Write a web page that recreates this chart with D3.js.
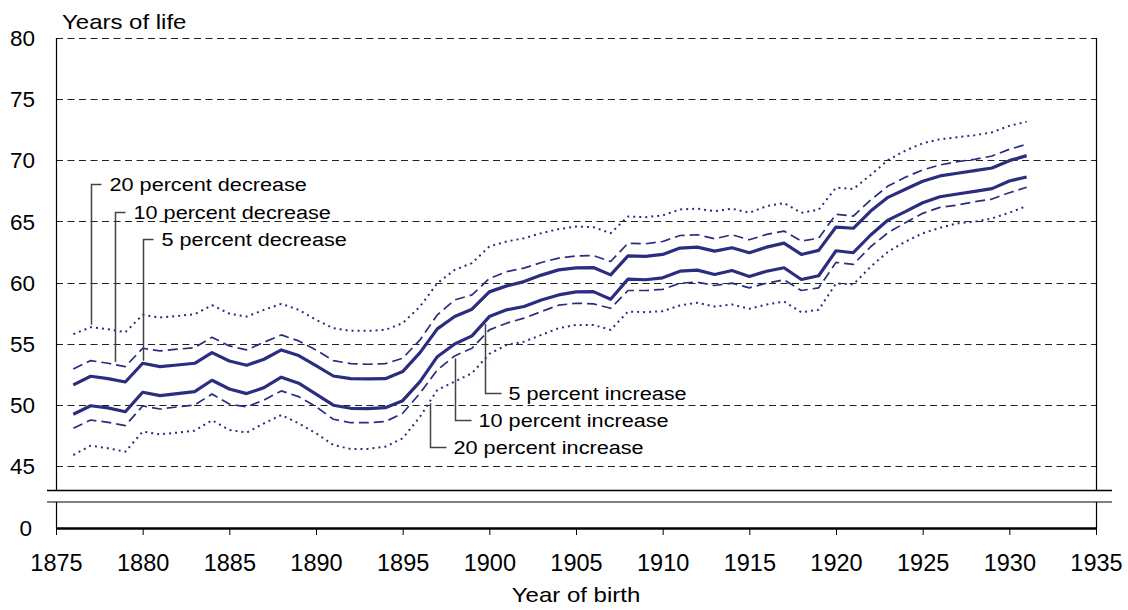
<!DOCTYPE html>
<html>
<head>
<meta charset="utf-8">
<script src="https://cdn.jsdelivr.net/npm/d3@7"></script>
<style>
  html, body { margin: 0; padding: 0; background: #fff; }
  svg { display: block; }
  text { font-family: "Liberation Sans", Arial, Helvetica, sans-serif; fill: #000; }
</style>
</head>
<body>
<svg id="chart" width="1128" height="610"></svg>
<script>
// Year of birth (x categories)
const years = [1876, 1877, 1878, 1879, 1880, 1881, 1882, 1883, 1884, 1885,
  1886, 1887, 1888, 1889, 1890, 1891, 1892, 1893, 1894, 1895,
  1896, 1897, 1898, 1899, 1900, 1901, 1902, 1903, 1904, 1905,
  1906, 1907, 1908, 1909, 1910, 1911, 1912, 1913, 1914, 1915,
  1916, 1917, 1918, 1919, 1920, 1921, 1922, 1923, 1924, 1925,
  1926, 1927, 1928, 1929, 1930, 1931];

// Life expectancy (years of life) under mortality changes
const decrease20 = [55.78, 56.35, 56.19, 55.94, 57.36, 57.14, 57.27, 57.41, 58.15, 57.46,
  57.22, 57.77, 58.26, 57.77, 56.95, 56.27, 56.05, 56.05, 56.13, 56.68,
  58.04, 59.95, 61.04, 61.59, 62.95, 63.36, 63.63, 64.04, 64.37, 64.58,
  64.53, 64.04, 65.40, 65.35, 65.49, 65.98, 66.04, 65.84, 66.04, 65.71,
  66.25, 66.50, 65.71, 65.96, 67.76, 67.65, 68.80, 70.02, 70.79, 71.39,
  71.72, 71.88, 72.05, 72.29, 72.81, 73.16];

const decrease10 = [52.94, 53.62, 53.40, 53.13, 54.63, 54.41, 54.55, 54.68, 55.53, 54.82,
  54.49, 55.12, 55.72, 55.23, 54.49, 53.62, 53.37, 53.32, 53.37, 53.81,
  55.31, 57.36, 58.58, 58.99, 60.33, 60.90, 61.18, 61.64, 62.00, 62.18,
  62.21, 61.72, 63.22, 63.17, 63.36, 63.85, 63.91, 63.58, 63.91, 63.50,
  63.94, 64.21, 63.39, 63.63, 65.58, 65.44, 66.75, 67.90, 68.61, 69.21,
  69.62, 69.89, 70.08, 70.35, 70.90, 71.31];

const decrease5 = [51.63, 52.34, 52.14, 51.87, 53.40, 53.13, 53.26, 53.40, 54.27, 53.59,
  53.24, 53.73, 54.49, 54.03, 53.21, 52.36, 52.14, 52.12, 52.14, 52.72,
  54.27, 56.21, 57.22, 57.82, 59.24, 59.73, 60.08, 60.61, 61.04, 61.20,
  61.23, 60.63, 62.18, 62.14, 62.30, 62.82, 62.90, 62.57, 62.85, 62.44,
  62.90, 63.23, 62.30, 62.63, 64.54, 64.44, 65.85, 66.97, 67.63, 68.28,
  68.72, 68.94, 69.15, 69.37, 69.97, 70.38];

const increase5 = [49.23, 49.93, 49.75, 49.44, 51.03, 50.75, 50.92, 51.08, 52.01, 51.30,
  50.92, 51.41, 52.26, 51.77, 50.87, 49.97, 49.72, 49.69, 49.77, 50.34,
  51.90, 53.94, 54.98, 55.64, 57.22, 57.77, 58.04, 58.58, 58.99, 59.24,
  59.26, 58.64, 60.28, 60.23, 60.39, 60.93, 61.02, 60.66, 60.99, 60.50,
  60.93, 61.21, 60.25, 60.56, 62.60, 62.44, 63.89, 65.11, 65.80, 66.53,
  67.02, 67.24, 67.46, 67.68, 68.31, 68.63];

const increase10 = [48.08, 48.76, 48.57, 48.30, 49.91, 49.66, 49.83, 49.99, 50.89, 50.07,
  49.83, 50.40, 51.14, 50.67, 49.85, 48.82, 48.54, 48.54, 48.63, 49.31,
  50.95, 52.86, 54.00, 54.63, 56.13, 56.68, 57.09, 57.63, 58.15, 58.31,
  58.26, 57.90, 59.35, 59.35, 59.44, 59.95, 60.03, 59.76, 59.95, 59.57,
  59.95, 60.23, 59.35, 59.57, 61.65, 61.49, 62.93, 64.08, 64.89, 65.66,
  66.15, 66.34, 66.61, 66.83, 67.35, 67.79];

const increase20 = [45.90, 46.66, 46.45, 46.17, 47.81, 47.59, 47.73, 47.89, 48.74, 47.95,
  47.73, 48.49, 49.17, 48.49, 47.68, 46.72, 46.39, 46.40, 46.58, 47.26,
  49.03, 51.22, 51.90, 52.59, 54.17, 54.90, 55.17, 55.72, 56.27, 56.54,
  56.54, 56.13, 57.63, 57.58, 57.66, 58.13, 58.35, 58.04, 58.21, 57.86,
  58.21, 58.45, 57.58, 57.77, 59.93, 59.85, 61.30, 62.52, 63.34, 64.03,
  64.48, 64.84, 64.98, 65.25, 65.71, 66.26];

// Axis ticks
const yTicks = [45, 50, 55, 60, 65, 70, 75, 80];
const xTicks = [1875, 1880, 1885, 1890, 1895, 1900, 1905, 1910, 1915, 1920, 1925, 1930, 1935];
const yBreakTick = 0;

// Callout labels: text, series, year where the leader meets the line, label level (years of life)
const callouts = [
  { text: "20 percent decrease", values: decrease20, year: 1877.0, level: 68.1, side: "above" },
  { text: "10 percent decrease", values: decrease10, year: 1878.4, level: 65.8, side: "above" },
  { text: "5 percent decrease",  values: decrease5,  year: 1880.0, level: 63.6, side: "above" },
  { text: "5 percent increase",  values: increase5,  year: 1899.75, level: 51.0, side: "below" },
  { text: "10 percent increase", values: increase10, year: 1898.0, level: 48.75, side: "below" },
  { text: "20 percent increase", values: increase20, year: 1896.6, level: 46.55, side: "below" }
];

// ---- layout ----
const svg = d3.select("#chart");
const plotLeft = 56, plotRight = 1096, plotTop = 38;
const panelBottom = 490, breakTop = 502, axisY = 528;
const lineColor = "#2b2d7e";

const x = d3.scaleLinear().domain([1875, 1935]).range([plotLeft, plotRight]);
const y = d3.scaleLinear().domain([45, 80]).range([466, plotTop]);

// horizontal dashed gridlines
svg.append("g").selectAll("line").data(yTicks).join("line")
  .attr("x1", plotLeft).attr("x2", plotRight)
  .attr("y1", d => Math.round(y(d)) + 0.5).attr("y2", d => Math.round(y(d)) + 0.5)
  .attr("stroke", "#222").attr("stroke-width", 1)
  .attr("stroke-dasharray", "7,4.5");

// frame of the upper panel (left and right edges)
const frame = svg.append("g").attr("stroke", "#000").attr("fill", "none");
frame.append("line").attr("x1", plotLeft + 0.5).attr("x2", plotLeft + 0.5)
  .attr("y1", plotTop).attr("y2", panelBottom).attr("stroke-width", 1.2);
frame.append("line").attr("x1", plotRight + 0.5).attr("x2", plotRight + 0.5)
  .attr("y1", plotTop).attr("y2", panelBottom).attr("stroke-width", 1.2);

// axis break: two horizontal rules
frame.append("line").attr("x1", 47).attr("x2", 1112)
  .attr("y1", panelBottom + 0.5).attr("y2", panelBottom + 0.5).attr("stroke-width", 1.5);
frame.append("line").attr("x1", 47).attr("x2", 1112)
  .attr("y1", breakTop).attr("y2", breakTop).attr("stroke", "#808080").attr("stroke-width", 2.2);

// lower panel edges and the zero baseline
frame.append("line").attr("x1", plotLeft + 0.5).attr("x2", plotLeft + 0.5)
  .attr("y1", breakTop).attr("y2", axisY).attr("stroke-width", 1.2);
frame.append("line").attr("x1", plotRight + 0.5).attr("x2", plotRight + 0.5)
  .attr("y1", breakTop).attr("y2", axisY).attr("stroke-width", 1.2);

// x axis at zero
const xAxis = d3.axisBottom(x).tickValues(xTicks).tickFormat(d3.format("d"))
  .tickSizeInner(7).tickSizeOuter(0).tickPadding(19);
const gx = svg.append("g").attr("transform", `translate(0,${axisY})`).call(xAxis);
gx.select(".domain").attr("stroke", "#000").attr("stroke-width", 2.4);
gx.selectAll(".tick line").attr("stroke", "#000").attr("stroke-width", 1);
gx.selectAll(".tick text")
  .style("font-family", '"Liberation Sans", Arial, sans-serif')
  .style("font-size", "23.5px").attr("fill", "#000");

// y tick labels
svg.append("g").selectAll("text").data(yTicks).join("text")
  .attr("x", 35).attr("y", d => y(d)).attr("dy", "0.36em")
  .attr("text-anchor", "end").style("font-size", "22.5px")
  .text(d => d);
svg.append("text").attr("x", 32).attr("y", axisY).attr("dy", "0.36em")
  .attr("text-anchor", "end").style("font-size", "22.5px").text(yBreakTick);

// axis titles (set slightly wide)
svg.append("text").attr("transform", "translate(62,29) scale(1.2,1)")
  .style("font-size", "20px").text("Years of life");
svg.append("text").attr("transform", `translate(${(plotLeft + plotRight) / 2},602) scale(1.2,1)`)
  .attr("text-anchor", "middle").style("font-size", "20px").text("Year of birth");

// series lines
const series = [
  { values: decrease20, width: 2, dash: "2,4" },
  { values: increase20, width: 2, dash: "2,4" },
  { values: decrease10, width: 1.7, dash: "10,5" },
  { values: increase10, width: 1.7, dash: "10,5" },
  { values: decrease5,  width: 3.2, dash: null },
  { values: increase5,  width: 3.2, dash: null }
];
const line = d3.line().x((d, i) => x(years[i])).y(d => y(d));
svg.append("g").selectAll("path").data(series).join("path")
  .attr("d", d => line(d.values))
  .attr("fill", "none")
  .attr("stroke", lineColor)
  .attr("stroke-width", d => d.width)
  .attr("stroke-linejoin", "round")
  .attr("stroke-dasharray", d => d.dash);

// callouts with leader lines
function valueAt(values, yr) {
  const i = Math.floor(yr - years[0]);
  const t = yr - years[0] - i;
  const a = values[i], b = values[Math.min(i + 1, values.length - 1)];
  return a + (b - a) * t;
}
const cg = svg.append("g");
callouts.forEach(c => {
  const lx = Math.round(x(c.year)) + 0.5;
  const ly = Math.round(y(c.level)) + 0.5;
  const vy = y(valueAt(c.values, c.year));
  const above = c.side === "above";
  const endY = above ? vy - 2.5 : vy + 2.5;
  const stub = above ? 10 : 16;
  const textDx = above ? 18 : 23;
  cg.append("path")
    .attr("d", `M${lx},${endY}V${ly}H${lx + stub}`)
    .attr("fill", "none").attr("stroke", "#444").attr("stroke-width", 1.5);
  cg.append("text")
    .attr("transform", `translate(${lx + textDx},${ly}) scale(1.14,1)`)
    .attr("dy", "0.36em").style("font-size", "19px")
    .text(c.text);
});
</script>
</body>
</html>
